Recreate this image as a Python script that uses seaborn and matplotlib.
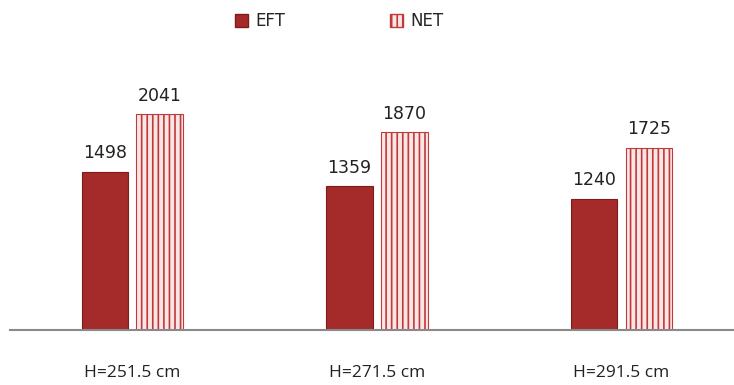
import pandas as pd
import matplotlib.pyplot as plt
import seaborn as sns
from matplotlib.patches import Patch

# values
heights = ['H=251.5 cm', 'H=271.5 cm', 'H=291.5 cm']
series = ['EFT', 'NET']
eft = [1498, 1359, 1240]
net = [2041, 1870, 1725]

df = pd.DataFrame({
    'Height': heights * 2,
    'Method': ['EFT'] * 3 + ['NET'] * 3,
    'Value': eft + net,
})

sns.set_style('white')
plt.rcParams['font.family'] = ['DejaVu Sans']
plt.rcParams['hatch.linewidth'] = 1.2

fig = plt.figure(figsize=(7.34, 3.85), dpi=100)
ax = fig.add_axes([0.0136, 0.143, 0.9864, 0.686])

sns.barplot(data=df, x='Height', y='Value', hue='Method', hue_order=series,
            palette={'EFT': '#a52a2a', 'NET': '#fbe6e6'}, saturation=1,
            width=0.448, gap=0.15, errorbar=None, ax=ax, legend=False)

eft_bars, net_bars = ax.containers
for b in eft_bars:
    b.set_edgecolor('#7d1c1c')
    b.set_linewidth(0.8)
for b in net_bars:
    b.set_hatch('|||')
    b.set_edgecolor('#c0393b')
    b.set_linewidth(0.8)

for c in ax.containers:
    ax.bar_label(c, fmt='%d', padding=7, fontsize=12.5, color='#222222')

ax.set_ylim(0, 2500)
ax.set_xlim(-0.5, 2.46)
ax.set_xlabel('')
ax.set_ylabel('')
ax.set_yticks([])
ax.tick_params(axis='x', length=0, pad=25, labelsize=12.5)
for lab in ax.get_xticklabels():
    lab.set_family('Open Sans')
    lab.set_color('#222222')
for s in ['top', 'right', 'left']:
    ax.spines[s].set_visible(False)
ax.spines['bottom'].set_color('#8a8a8a')
ax.spines['bottom'].set_linewidth(1.5)

# legend
handles = [Patch(facecolor='#a52a2a', edgecolor='#7d1c1c', label='EFT'),
           Patch(facecolor='#fbe6e6', edgecolor='#c0393b', hatch='|||', label='NET')]
fig.legend(handles=handles, loc='center', bbox_to_anchor=(0.462, 0.945), ncol=2,
           frameon=False, fontsize=12, columnspacing=6.3, handlelength=0.8,
           handleheight=0.8, handletextpad=0.4)

plt.savefig('out.png', dpi=100)
